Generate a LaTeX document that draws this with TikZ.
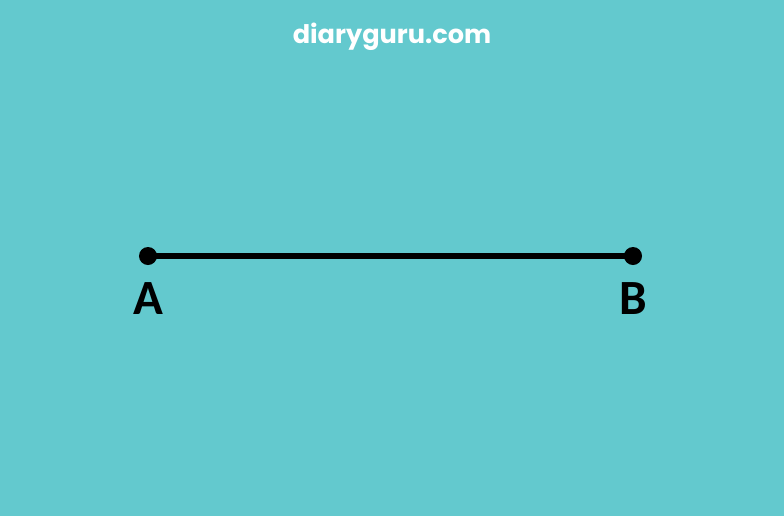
\documentclass[tikz,border=0pt]{standalone}
\usepackage{fontspec}
\setmainfont{Carlito}
\newfontfamily\sitefont{Poppins}
\usepackage{xcolor}
\usetikzlibrary{positioning}
\definecolor{bgteal}{HTML}{63C9CE}

\begin{document}
\begin{tikzpicture}[
    x=0.025cm, y=-0.025cm,
    endpoint/.style={circle, fill=black, inner sep=0pt, minimum size=0.45cm},
    segment/.style={line width=3.6pt, black},
    ptlabel/.style={font=\fontsize{35}{35}\selectfont\bfseries, text=black, inner sep=0pt},
    sitename/.style={font=\sitefont\fontsize{18.2}{18.2}\selectfont\bfseries, text=white, inner sep=0pt}
]
    % Background
    \fill[bgteal] (0,0) rectangle (784,516);
    \useasboundingbox (0,0) rectangle (784,516);

    % Title
    \node[sitename] (site) at (392,37) {diaryguru.com};

    % End points
    \node[endpoint] (A) at (148,256) {};
    \node[endpoint] (B) at (633,256) {};

    % Segment
    \draw[segment] (A.center) -- (B.center);

    % Labels
    \node[ptlabel, below=0.65cm of A.center] (labA) {A};
    \node[ptlabel, below=0.65cm of B.center] (labB) {B};
\end{tikzpicture}
\end{document}
